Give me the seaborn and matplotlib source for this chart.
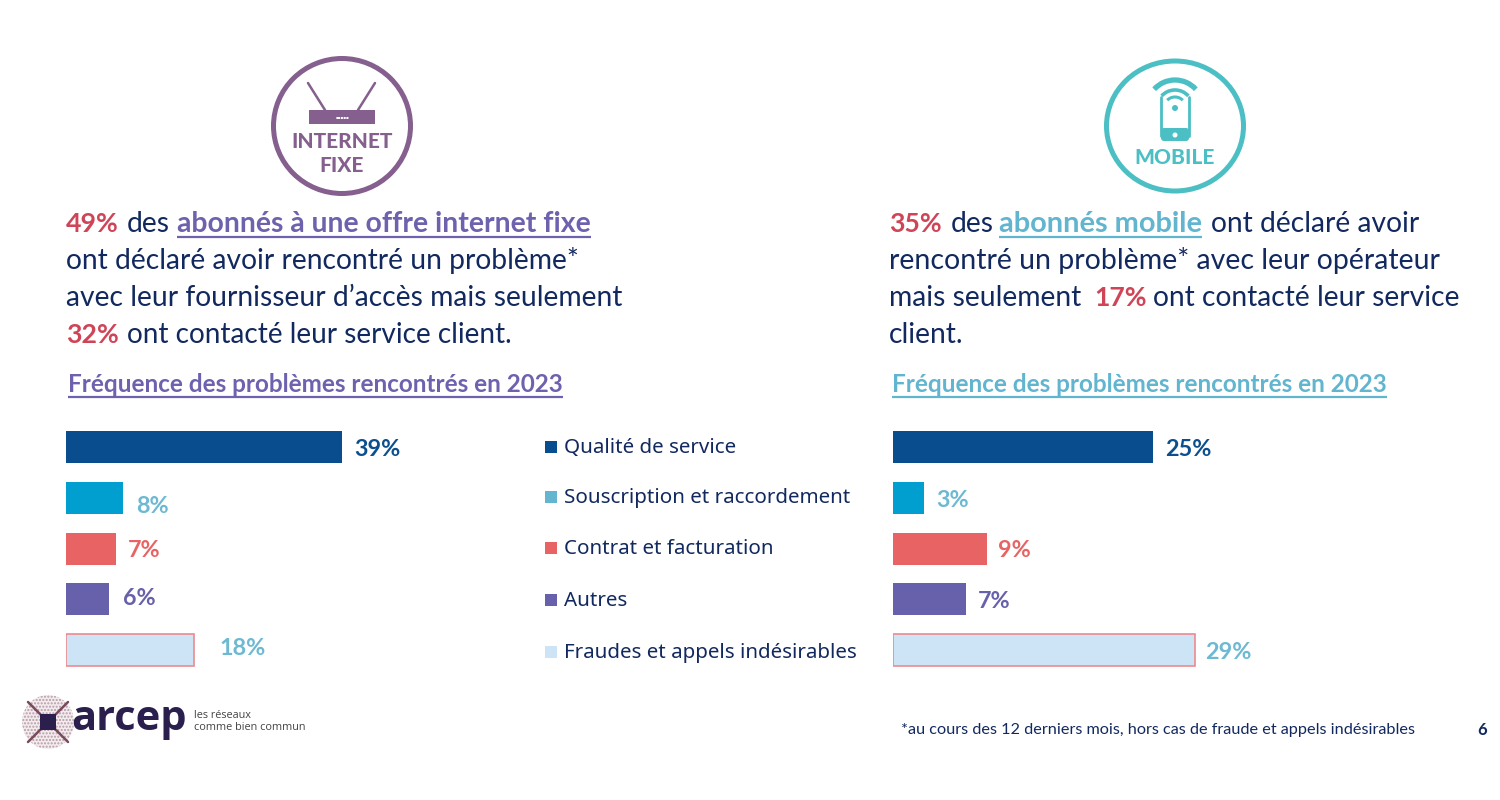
import matplotlib
matplotlib.use("Agg")
import matplotlib.pyplot as plt
import matplotlib.patches as mp
import pandas as pd
import seaborn as sns

categories = ["Qualité de service", "Souscription et raccordement", "Contrat et facturation", "Autres", "Fraudes et appels indésirables"]
fixe_values = [39, 8, 7, 6, 18]
mobile_values = [25, 3, 9, 7, 29]
bar_colors = ["#094D8E", "#009FD0", "#E86464", "#6760AA", "#CDE4F7"]
label_colors = ["#0B4F8F", "#6DB9D2", "#E86464", "#6760AA", "#6DB9D2"]
legend_colors = ["#094D8E", "#64B5CF", "#E86464", "#6760AA", "#CDE4F7"]

NAVY = "#12295F"; RED = "#CF4557"; VIOLET = "#6D62AE"; TEAL = "#62B5CF"
PURPLE = "#855F8E"; TURQ = "#4BBFC4"; INK = "#2B1F4D"

sns.set_theme(style="white")
plt.rcParams["font.family"] = ["Lato", "DejaVu Sans"]
W, H = 1500, 800
fig = plt.figure(figsize=(15, 8), dpi=100, facecolor="white")

def px_axes(x0, y0, x1, y1, **kw):
    return fig.add_axes([x0 / W, 1 - y1 / H, (x1 - x0) / W, (y1 - y0) / H], **kw)

# overlay in pixel coordinates
ov = fig.add_axes([0, 0, 1, 1], zorder=0)
ov.set_xlim(0, W); ov.set_ylim(H, 0); ov.axis("off")

def bars(x0, x1, xmax, values, offsets):
    ax = px_axes(x0, 422, x1, 675.5, zorder=2)
    ax.patch.set_alpha(0)
    df = pd.DataFrame({"cat": categories, "val": values})
    sns.barplot(data=df, y="cat", x="val", hue="cat", hue_order=categories, order=categories,
                palette=dict(zip(categories, bar_colors)), width=0.63, dodge=False, legend=False,
                saturation=1, ax=ax, edgecolor="none")
    ax.set_xlim(0, xmax); ax.set_ylim(4.5, -0.5)
    ax.axis("off")
    last = ax.containers[-1][0]
    last.set_edgecolor("#EE8A8E"); last.set_linewidth(1.2)
    for i, v in enumerate(values):
        dx, dy = offsets[i]
        ax.annotate(f"{v}%", (v, i), xytext=(dx * .72, -dy * .72), textcoords="offset points",
                    color=label_colors[i], fontsize=16.8, fontweight="bold", va="center", ha="left")
    return ax

bars(66, 385, 45, fixe_values, [(12, 2), (13, 8), (12, 2), (14, -1), (26, -2)])
bars(893, 1257, 35, mobile_values, [(12, 2), (12, 2), (11, 2), (12, 2), (11, 2)])

# rich text runs: text, colour, bold, underlined, start x, size
rend = fig.canvas.get_renderer()
def rich(y, runs):
    for txt, col, bold, ul, x, size in runs:
        t = ov.text(x, y, txt, color=col, fontsize=size, fontweight="bold" if bold else "normal",
                    va="baseline", ha="left")
        if ul:
            w = t.get_window_extent(rend).width
            ov.plot([x, x + w], [y + 5, y + 5], color=col, lw=1.6, solid_capstyle="butt")

left_lines = [
    [("49%", RED, True, False, 66, 19.2), ("des", NAVY, False, False, 127, 20.3), ("abonnés à une offre internet fixe", VIOLET, True, True, 177, 20.45)],
    [("ont déclaré avoir rencontré un problème*", NAVY, False, False, 66, 20.3)],
    [("avec leur fournisseur d’accès mais seulement", NAVY, False, False, 66, 20.3)],
    [("32%", RED, True, False, 66, 19.2), ("ont contacté leur service client.", NAVY, False, False, 127, 20.2)],
]
right_lines = [
    [("35%", RED, True, False, 889, 19.2), ("des", NAVY, False, False, 951, 20.3), ("abonnés mobile", TEAL, True, True, 999, 20.9), ("ont déclaré avoir", NAVY, False, False, 1211, 20.3)],
    [("rencontré un problème* avec leur opérateur", NAVY, False, False, 889, 20.55)],
    [("mais seulement", NAVY, False, False, 889, 20.3), ("17%", RED, True, False, 1094, 19.2), ("ont contacté leur service", NAVY, False, False, 1153, 20.3)],
    [("client.", NAVY, False, False, 889, 20.3)],
]
for lines in (left_lines, right_lines):
    for i, r in enumerate(lines):
        rich(232 + 37 * i, r)

rich(392, [("Fréquence des problèmes rencontrés en 2023", VIOLET, True, True, 68, 17.43)])
rich(392, [("Fréquence des problèmes rencontrés en 2023", TEAL, True, True, 892, 17.43)])

# legend
leg_y = [447, 497, 548, 600, 652]
for c, col, y in zip(categories, legend_colors, leg_y):
    ov.add_patch(mp.Rectangle((545, y - 6), 12, 12, fc=col, ec="none"))
    ov.text(564, y + 1, c, color=NAVY, fontsize=14.8, va="center", ha="left", family=["Noto Sans", "DejaVu Sans"])

# internet icon
ov.add_patch(mp.Ellipse((342, 126), 137, 135, fc="none", ec=PURPLE, lw=3.6))
ov.add_patch(mp.Rectangle((309, 110), 66, 14, fc=PURPLE, ec="none"))
ov.plot([308, 325], [83, 110], color=PURPLE, lw=1.8)
ov.plot([375, 358], [83, 110], color=PURPLE, lw=1.8)
ov.text(342, 117, "▪▪▪▪▪", color="white", fontsize=3, ha="center", va="center", family="DejaVu Sans")
ov.text(342, 142, "INTERNET", color=PURPLE, fontsize=15, fontweight=900, ha="center", va="center")
ov.text(342, 166, "FIXE", color=PURPLE, fontsize=15, fontweight=900, ha="center", va="center")

# mobile icon
ov.add_patch(mp.Ellipse((1175, 126), 137, 130, fc="none", ec=TURQ, lw=3.6))
ov.plot([1161, 1161], [97, 136], color=TURQ, lw=2)
ov.plot([1189, 1189], [97, 136], color=TURQ, lw=2)
ov.add_patch(mp.FancyBboxPatch((1161, 128), 28, 13, boxstyle="round,pad=0,rounding_size=3", fc=TURQ, ec="none"))
ov.add_patch(mp.Circle((1175, 135), 2.5, fc="white", ec="none", zorder=4))
ov.add_patch(mp.Circle((1175, 108), 3, fc=TURQ, ec="none"))
for d, lw, t1, t2 in ((22, 2.2, 225, 315), (36, 2.6, 222, 318), (56, 3.8, 222, 318)):
    ov.add_patch(mp.Arc((1175, 108), d, d, theta1=t1, theta2=t2, ec=TURQ, lw=lw, zorder=4))
ov.text(1175, 157, "MOBILE", color=TURQ, fontsize=15, fontweight=900, ha="center", va="center")

# logo
cx, cy = 48, 722
ov.add_patch(mp.Ellipse((cx, cy), 52, 54, fc="#F3ECEE", ec="#B89AA6", hatch=".....", lw=0))
for a, b in ((-1, -1), (1, -1), (-1, 1), (1, 1)):
    ov.plot([cx + a * 5, cx + a * 20], [cy + b * 5, cy + b * 20], color="#7A4A5E", lw=1.8)
ov.add_patch(mp.Rectangle((cx - 8, cy - 8), 16, 16, fc=INK, ec="none", zorder=3))
ov.text(71, 730, "arcep", color=INK, fontsize=30, fontweight="bold", ha="left", va="baseline", family=["Open Sans", "DejaVu Sans"])
ov.text(194, 715, "les réseaux", color="#444444", fontsize=7.8, ha="left", va="center", family=["Open Sans"])
ov.text(194, 728, "comme bien commun", color="#444444", fontsize=7.8, ha="left", va="center", family=["Open Sans"])

ov.text(901, 730, "*au cours des 12 derniers mois, hors cas de fraude et appels indésirables", color=NAVY, fontsize=11.7, ha="left", va="center")
ov.text(1482, 730, "6", color=NAVY, fontsize=12, fontweight="bold", ha="center", va="center")

fig.savefig("out.png", dpi=100, facecolor="white")
